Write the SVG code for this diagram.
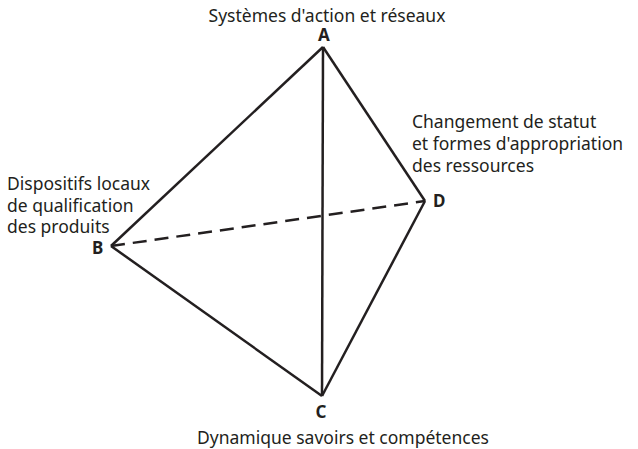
<svg xmlns="http://www.w3.org/2000/svg" width="638" height="449" viewBox="0 0 638 449">
<style>
.t{font-family:"Noto Sans","Open Sans",sans-serif;font-size:17.5px;fill:#231f20}
.v{font-family:"Noto Sans","Open Sans",sans-serif;font-size:17px;font-weight:bold;fill:#231f20}
.e{stroke:#231f20;stroke-width:2.5;fill:none}
.d{stroke-dasharray:14 8}
</style>
<rect width="638" height="449" fill="#fff"/>
<g id="connectors">
<line class="e" x1="323" y1="47" x2="111" y2="246"/>
<line class="e" x1="323" y1="47" x2="425" y2="201"/>
<line class="e" x1="323" y1="47" x2="322" y2="396"/>
<line class="e" x1="111" y1="246" x2="322" y2="396"/>
<line class="e" x1="425" y1="201" x2="322" y2="396"/>
<line class="e d" x1="111" y1="246" x2="425" y2="201"/>
</g>
<g id="nodeA"><text class="t" x="327" y="22" text-anchor="middle">Systèmes d'action et réseaux</text><text class="v" x="324" y="41" text-anchor="middle">A</text></g>
<g id="nodeB"><text class="t" x="7" y="190">Dispositifs locaux</text><text class="t" x="7" y="212">de qualification</text><text class="t" x="7" y="233">des produits</text><text class="v" x="92" y="254">B</text></g>
<g id="nodeC"><text class="v" x="321" y="418" text-anchor="middle">C</text><text class="t" x="197" y="444">Dynamique savoirs et compétences</text></g>
<g id="nodeD"><text class="t" x="412" y="128">Changement de statut</text><text class="t" x="412" y="150">et formes d'appropriation</text><text class="t" x="412" y="172">des ressources</text><text class="v" x="433" y="207">D</text></g>
</svg>
